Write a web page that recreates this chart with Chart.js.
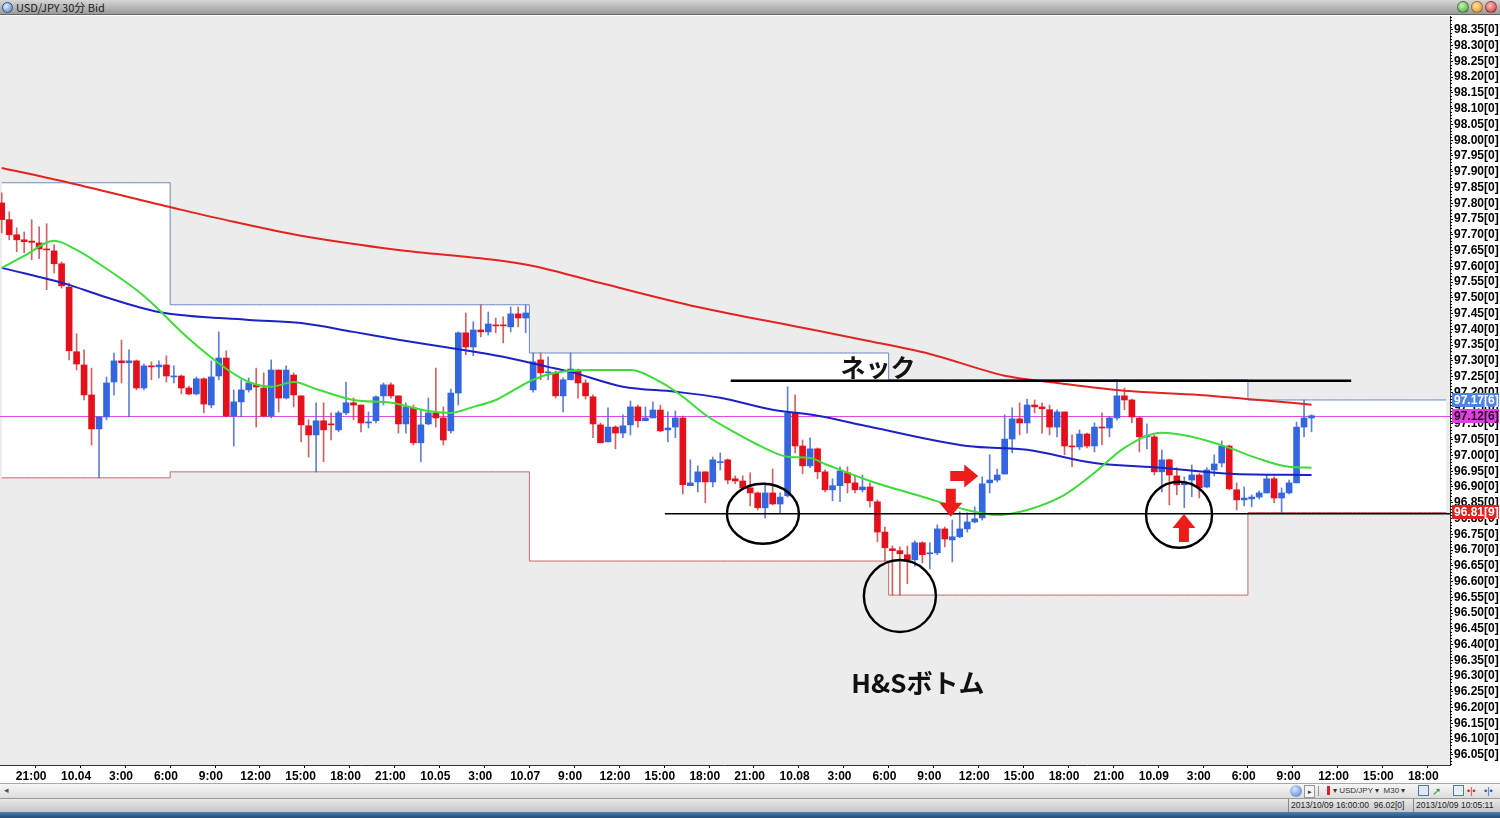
<!DOCTYPE html>
<html lang="ja">
<head>
<meta charset="utf-8">
<title>USD/JPY 30分 Bid</title>
<script src="https://cdn.jsdelivr.net/npm/chart.js@4.4.1/dist/chart.umd.min.js"></script>
<style>
  html,body{margin:0;padding:0;background:#fff;width:1500px;height:818px;overflow:hidden;font-family:"Liberation Sans",Arial,sans-serif;}
  #titlebar{position:absolute;left:0;top:0;width:1500px;height:15px;background:linear-gradient(#d6d6d6,#9a9a9a);border-bottom:1px solid #6a6a6a;box-sizing:border-box;z-index:3;}
  #titlebar .txt{position:absolute;left:16px;top:0;font:11px/14px "Noto Sans CJK JP","Liberation Sans",sans-serif;color:#1c1c1c;}
  #titlebar .icon{position:absolute;left:2px;top:2px;width:11px;height:11px;border-radius:50%;background:radial-gradient(circle at 35% 35%,#e4f0ff,#4a78c0);border:1px solid #35508a;box-sizing:border-box;}
  .wbtn{position:absolute;top:1px;width:12px;height:12px;border-radius:50%;box-sizing:border-box;border:1px solid rgba(0,0,0,.35);}
  #chartWrap{position:absolute;left:-2px;top:15px;width:1502px;height:769px;}
  #scrollrow{position:absolute;left:0;top:783px;width:1500px;height:15px;background:linear-gradient(#f7f7f7,#dcdcdc);border-top:1px solid #a8a8a8;box-sizing:border-box;font-size:8px;color:#333;}
  #statusrow{position:absolute;left:0;top:798px;width:1500px;height:14px;background:linear-gradient(#e9e9e9,#c6c6c6);border-top:1px solid #9a9a9a;box-sizing:border-box;font-size:8.5px;color:#222;}
  #taskbar{position:absolute;left:0;top:812px;width:1500px;height:6px;background:linear-gradient(#4f80b4,#1f4a78);}
  .abs{position:absolute;white-space:nowrap;}
</style>
</head>
<body>
<div id="titlebar">
  <div class="icon"></div>
  <div class="txt">USD/JPY 30分 Bid</div>
  <div class="wbtn" style="left:1457px;background:radial-gradient(circle at 40% 35%,#c8f5b8,#3f9f2c);"></div>
  <div class="wbtn" style="left:1471px;background:radial-gradient(circle at 40% 35%,#ffe2a8,#e08a12);"></div>
  <div class="wbtn" style="left:1485px;background:radial-gradient(circle at 40% 35%,#ffc0c0,#cc2a2a);"></div>
</div>
<div id="chartWrap"><canvas id="c" width="1502" height="769"></canvas></div>
<div id="scrollrow">
  <div class="abs" style="left:4px;top:1px;font-size:9px;color:#555;">&#9666;</div>
  <div class="abs" style="left:1290px;top:1px;width:12px;height:12px;border-radius:50%;background:radial-gradient(circle at 40% 35%,#d8e8ff,#3d72cc);"></div>
  <div class="abs" style="left:1304px;top:1px;width:9px;height:11px;border:1px solid #999;background:#f4f4f4;font-size:7px;line-height:11px;text-align:center;">&#9656;</div>
  <div class="abs" style="left:1318px;top:2px;width:1px;height:10px;background:#999;"></div>
  <div class="abs" style="left:1327px;top:2px;width:3px;height:9px;background:#e02020;"></div>
  <div class="abs" style="left:1333px;top:1px;line-height:12px;">&#9662; USD/JPY &#9662;&nbsp; M30 &#9662;</div>
  <div class="abs" style="left:1418px;top:1px;width:11px;height:11px;border:1px solid #5577aa;background:#dde8f8;box-sizing:border-box;"></div>
  <div class="abs" style="left:1432px;top:1px;color:#2a9a2a;font-size:11px;line-height:12px;">&#10138;</div>
  <div class="abs" style="left:1453px;top:1px;width:11px;height:11px;border:1px solid #5577aa;background:#e8eef8;box-sizing:border-box;"></div>
  <div class="abs" style="left:1467px;top:1px;color:#cc2222;font-size:9px;line-height:12px;">&#8226;|&#8226;</div>
  <div class="abs" style="left:1484px;top:1px;color:#2255cc;font-size:9px;line-height:12px;">&#8226;|&#8226;</div>
</div>
<div id="statusrow">
  <div class="abs" style="left:1288px;top:0;width:1px;height:13px;background:#888;"></div>
  <div class="abs" style="left:1291px;top:0;line-height:13px;">2013/10/09 16:00:00&nbsp; 96.02[0]</div>
  <div class="abs" style="left:1413px;top:0;width:1px;height:13px;background:#888;"></div>
  <div class="abs" style="left:1416px;top:0;line-height:13px;">2013/10/09 10:05:11</div>
</div>
<div id="taskbar"></div>

<script>
// ---------- categories (30-minute bars) ----------
function buildSlots(month, day, startMin, count) {
  const out = []; let d = day, m = startMin;
  for (let k = 0; k < count; k++) {
    const hh = Math.floor(m / 60), mm = m % 60;
    out.push(month + '.' + String(d).padStart(2, '0') + ' ' + String(hh).padStart(2, '0') + ':' + String(mm).padStart(2, '0'));
    m += 30; if (m >= 1440) { m -= 1440; d++; }
  }
  return out;
}
const categories = [...buildSlots('10', 3, 18 * 60 + 30, 71), ...buildSlots('10', 7, 6 * 60, 123)];

// ---------- x tick labels ----------
const tickTimes = ['10.03 21:00','10.04 00:00','10.04 03:00','10.04 06:00','10.04 09:00','10.04 12:00','10.04 15:00','10.04 18:00','10.04 21:00','10.05 00:00','10.05 03:00','10.07 06:00','10.07 09:00','10.07 12:00','10.07 15:00','10.07 18:00','10.07 21:00','10.08 00:00','10.08 03:00','10.08 06:00','10.08 09:00','10.08 12:00','10.08 15:00','10.08 18:00','10.08 21:00','10.09 00:00','10.09 03:00','10.09 06:00','10.09 09:00','10.09 12:00','10.09 15:00','10.09 18:00'];
const tickTexts = ['21:00','10.04','3:00','6:00','9:00','12:00','15:00','18:00','21:00','10.05','3:00','10.07','9:00','12:00','15:00','18:00','21:00','10.08','3:00','6:00','9:00','12:00','15:00','18:00','21:00','10.09','3:00','6:00','9:00','12:00','15:00','18:00'];

// ---------- OHLC ----------
const opens = [97.801,97.748,97.700,97.684,97.680,97.674,97.655,97.649,97.608,97.534,
97.329,97.287,97.192,97.084,97.122,97.233,97.300,97.294,97.300,97.214,
97.284,97.281,97.287,97.249,97.252,97.214,97.195,97.243,97.160,97.252,
97.309,97.125,97.170,97.208,97.224,97.214,97.125,97.271,97.182,97.255,
97.189,97.094,97.065,97.110,97.100,97.081,97.135,97.167,97.160,97.103,
97.110,97.189,97.224,97.189,97.100,97.151,97.040,97.100,97.135,97.119,
97.078,97.198,97.389,97.344,97.398,97.392,97.414,97.414,97.408,97.449,
97.436,97.208,97.303,97.262,97.262,97.189,97.240,97.271,97.230,97.186,
97.097,97.043,97.090,97.071,97.097,97.154,97.110,97.119,97.144,97.081,
97.090,97.119,96.904,96.916,96.948,96.916,96.977,96.986,96.926,96.919,
96.897,96.881,96.834,96.881,96.846,96.872,97.135,97.030,96.967,97.021,
96.948,96.891,96.904,96.945,96.913,96.891,96.900,96.853,96.757,96.704,
96.698,96.685,96.669,96.723,96.688,96.691,96.767,96.732,96.742,96.767,
96.789,96.802,96.913,96.922,96.941,97.052,97.116,97.103,97.160,97.154,
97.145,97.090,97.138,97.030,97.027,97.068,97.030,97.090,97.087,97.119,
97.189,97.176,97.119,97.059,97.059,96.948,96.986,96.935,96.907,96.922,
96.938,96.900,96.954,96.976,97.030,96.891,96.859,96.862,96.868,96.881,
96.926,96.865,96.881,96.913,97.090,97.119];
const highs = [97.833,97.773,97.722,97.709,97.748,97.725,97.735,97.668,97.614,97.547,
97.386,97.335,97.277,97.122,97.249,97.325,97.366,97.335,97.303,97.290,
97.297,97.300,97.316,97.284,97.255,97.220,97.249,97.246,97.300,97.392,
97.332,97.208,97.240,97.246,97.277,97.262,97.303,97.271,97.284,97.262,
97.189,97.113,97.167,97.167,97.135,97.141,97.233,97.182,97.160,97.138,
97.189,97.230,97.230,97.189,97.167,97.160,97.145,97.182,97.277,97.154,
97.211,97.392,97.452,97.424,97.478,97.455,97.436,97.440,97.471,97.471,
97.478,97.325,97.325,97.313,97.268,97.246,97.325,97.274,97.240,97.192,
97.103,97.151,97.094,97.129,97.173,97.160,97.154,97.170,97.160,97.138,
97.141,97.125,96.986,96.967,96.948,96.995,97.008,96.989,96.935,96.935,
96.945,96.884,96.913,96.957,96.881,97.218,97.192,97.049,97.056,97.024,
96.954,96.926,96.964,96.964,96.938,96.938,96.913,96.859,96.773,96.713,
96.710,96.713,96.729,96.726,96.723,96.780,96.773,96.795,96.821,96.818,
96.837,96.932,97.002,96.957,97.129,97.151,97.167,97.179,97.176,97.167,
97.160,97.145,97.138,97.065,97.081,97.071,97.103,97.135,97.122,97.240,
97.214,97.179,97.122,97.100,97.065,97.018,96.989,96.961,96.932,96.970,
96.942,96.961,97.002,97.046,97.033,96.913,96.900,96.875,96.888,96.938,
96.932,96.897,96.922,97.106,97.176,97.129];
const lows = [97.706,97.684,97.646,97.643,97.621,97.624,97.526,97.579,97.531,97.303,
97.271,97.176,97.033,96.929,97.113,97.192,97.230,97.122,97.208,97.208,
97.240,97.246,97.233,97.230,97.195,97.192,97.192,97.135,97.151,97.240,
97.122,97.030,97.122,97.201,97.090,97.122,97.119,97.138,97.179,97.154,
97.043,96.995,96.948,96.980,97.049,97.075,97.129,97.113,97.075,97.087,
97.103,97.160,97.182,97.071,97.071,97.033,96.980,97.097,97.090,97.033,
97.071,97.160,97.319,97.316,97.376,97.382,97.389,97.357,97.392,97.408,
97.389,97.201,97.240,97.240,97.182,97.138,97.240,97.182,97.179,97.056,
97.040,97.043,97.021,97.056,97.065,97.090,97.110,97.119,97.075,97.043,
97.056,96.878,96.904,96.884,96.850,96.900,96.954,96.910,96.910,96.891,
96.840,96.827,96.802,96.843,96.818,96.868,97.008,96.942,96.961,96.926,
96.884,96.856,96.853,96.881,96.881,96.884,96.837,96.726,96.665,96.557,
96.557,96.593,96.649,96.659,96.640,96.685,96.710,96.662,96.739,96.757,
96.786,96.795,96.881,96.916,96.941,97.008,97.065,97.071,97.135,97.071,
97.065,97.059,97.002,96.964,97.018,97.024,97.011,97.033,97.059,97.113,
97.145,97.103,97.011,97.021,96.938,96.884,96.843,96.875,96.834,96.869,
96.865,96.897,96.935,96.964,96.891,96.827,96.840,96.837,96.862,96.881,
96.850,96.819,96.878,96.913,97.059,97.075];
const closes = [97.748,97.700,97.684,97.678,97.676,97.655,97.652,97.608,97.538,97.332,
97.290,97.192,97.084,97.122,97.230,97.300,97.294,97.300,97.214,97.284,
97.281,97.287,97.252,97.252,97.214,97.195,97.243,97.163,97.249,97.309,
97.125,97.170,97.208,97.230,97.217,97.125,97.271,97.182,97.271,97.192,
97.097,97.065,97.110,97.081,97.097,97.135,97.167,97.160,97.103,97.106,
97.186,97.224,97.189,97.100,97.154,97.040,97.097,97.135,97.119,97.049,
97.198,97.389,97.344,97.398,97.392,97.417,97.411,97.411,97.449,97.436,
97.452,97.297,97.262,97.265,97.189,97.240,97.274,97.230,97.189,97.100,
97.040,97.090,97.071,97.094,97.154,97.110,97.119,97.144,97.078,97.087,
97.119,96.907,96.913,96.948,96.916,96.986,96.980,96.922,96.919,96.897,
96.881,96.834,96.881,96.846,96.868,97.135,97.030,96.967,97.021,96.948,
96.891,96.904,96.951,96.913,96.891,96.900,96.856,96.757,96.707,96.698,
96.688,96.669,96.723,96.685,96.691,96.767,96.735,96.742,96.767,96.789,
96.799,96.910,96.922,96.938,97.052,97.116,97.103,97.160,97.154,97.148,
97.090,97.138,97.030,97.027,97.068,97.030,97.090,97.087,97.119,97.189,
97.176,97.122,97.059,97.062,96.948,96.986,96.938,96.907,96.913,96.938,
96.897,96.954,96.973,97.030,96.894,96.859,96.865,96.868,96.881,96.926,
96.865,96.881,96.913,97.090,97.119,97.126];

// ---------- moving averages (read at sample bars) ----------
const maShortIdx = [0,3,7,10,13,19,25,30,33,36,39,42,47,52,57,60,63,66,68,71,74,79,84,88,91,94,98,101,105,108,110,116,123,129,133,137,142,146,150,155,159,164,168,172,175];
const maShortVal = [97.595,97.633,97.681,97.652,97.608,97.506,97.370,97.275,97.233,97.218,97.233,97.211,97.176,97.167,97.141,97.135,97.154,97.176,97.202,97.240,97.262,97.271,97.271,97.233,97.186,97.129,97.072,97.034,96.996,96.992,96.973,96.919,96.869,96.827,96.811,96.827,96.875,96.945,97.024,97.072,97.059,97.024,96.989,96.964,96.961];
const maMidIdx = [0,9,13,21,33,40,47,53,60,67,73,76,83,90,96,103,109,116,129,137,146,155,164,175];
const maMidVal = [97.595,97.541,97.509,97.455,97.430,97.420,97.392,97.367,97.341,97.313,97.281,97.265,97.218,97.202,97.183,97.145,97.126,97.091,97.030,97.018,96.976,96.961,96.942,96.938];
const maLongIdx = [0,9,23,31,40,53,66,71,80,93,107,115,124,134,141,150,160,168,175];
const maLongVal = [97.912,97.865,97.785,97.741,97.697,97.652,97.620,97.601,97.547,97.471,97.405,97.367,97.322,97.253,97.230,97.205,97.192,97.176,97.161];

// ---------- daily high / low boxes ----------
const boxStarts = ['10.03 18:30','10.04 06:00','10.07 06:00','10.08 06:00','10.09 06:00'];
const boxHighs = [97.865,97.478,97.325,97.240,97.176];
const boxLows  = [96.929,96.948,96.665,96.557,96.819];

// ---------- current prices ----------
const bidPrice = 97.126;
const tagPrices = [97.176, 97.126, 96.819];
const tagTexts  = ['97.17[6]', '97.12[6]', '96.81[9]'];

// ---------- build library data ----------
const N = categories.length;
const tickMap = {}; tickTimes.forEach((t, k) => tickMap[t] = tickTexts[k]);
const wickData = [], bodyData = [], wickCol = [], bodyCol = [];
for (let i = 0; i < N; i++) {
  if (i < opens.length) {
    const up = closes[i] >= opens[i];
    wickData.push([lows[i], highs[i]]); bodyData.push([opens[i], closes[i]]);
    wickCol.push(up ? 'rgba(70,105,205,0.85)' : 'rgba(200,70,70,0.85)');
    bodyCol.push(up ? '#3467df' : '#e4101c');
  } else { wickData.push(null); bodyData.push(null); wickCol.push('#000'); bodyCol.push('#000'); }
}
function sparse(idx, vals) { const a = new Array(N).fill(null); idx.forEach((k, j) => a[k] = vals[j]); return a; }
const startIdx = boxStarts.map(t => categories.indexOf(t));
const boxHighData = [], boxLowData = [];
for (let i = 0; i < N; i++) {
  let d = 0; for (let k = 0; k < startIdx.length; k++) if (i >= startIdx[k]) d = k;
  boxHighData.push(boxHighs[d]); boxLowData.push(boxLows[d]);
}

// ---------- annotation layout ----------
const marks = {
  neck: { from: 97.4, to: 180.3, price: 97.237 },
  support: { from: 88.6, price: 96.815 },
  circles: [ { i: 101.7, p: 96.815, rx: 36, ry: 30 }, { i: 120.0, p: 96.554, rx: 36, ry: 36 }, { i: 157.3, p: 96.812, rx: 33, ry: 33 } ],
  arrows: [ { i: 128.6, p: 96.935, a: Math.PI / 2 }, { i: 126.8, p: 96.850, a: Math.PI }, { i: 157.95, p: 96.770, a: 0 } ],
  texts: [ { i: 117.07, p: 97.278, t: 'ネック', size: 25 }, { i: 122.4, p: 96.278, t: 'H&Sボトム', size: 26 } ]
};
const tagStyles = [ { bg: '#4f82e8', fg: '#ffffff' }, { bg: '#e13fe1', fg: '#2a002a' }, { bg: '#e3201c', fg: '#ffffff' } ];

function drawArrow(ctx, cx, cy, ang) {
  ctx.save(); ctx.translate(cx, cy); ctx.rotate(ang);
  ctx.beginPath();
  ctx.moveTo(0, -14); ctx.lineTo(11.5, 0); ctx.lineTo(5, 0); ctx.lineTo(5, 14);
  ctx.lineTo(-5, 14); ctx.lineTo(-5, 0); ctx.lineTo(-11.5, 0); ctx.closePath();
  ctx.fillStyle = '#ee1b1b'; ctx.fill(); ctx.restore();
}

const overlay = {
  id: 'overlay',
  beforeDraw(chart) {
    const { ctx, chartArea: a } = chart;
    ctx.save();
    ctx.fillStyle = '#ffffff'; ctx.fillRect(0, 0, chart.width, chart.height);
    ctx.fillStyle = '#ececec'; ctx.fillRect(a.left, a.top, a.right - a.left, a.bottom - a.top);
    ctx.restore();
  },
  beforeDatasetsDraw(chart) {
    const { ctx, chartArea: a, scales: { y } } = chart;
    const py = Math.round(y.getPixelForValue(bidPrice)) + 0.5;
    ctx.save(); ctx.strokeStyle = '#e04be0'; ctx.lineWidth = 1;
    ctx.beginPath(); ctx.moveTo(a.left, py); ctx.lineTo(a.right, py); ctx.stroke(); ctx.restore();
  },
  afterDatasetsDraw(chart) {
    const { ctx, chartArea: a, scales: { x, y } } = chart;
    ctx.save();
    ctx.beginPath(); ctx.rect(a.left, a.top, a.right - a.left, a.bottom - a.top); ctx.clip();
    ctx.strokeStyle = '#000';
    ctx.lineWidth = 1.6;
    let py = y.getPixelForValue(marks.support.price);
    ctx.beginPath(); ctx.moveTo(x.getPixelForValue(marks.support.from), py); ctx.lineTo(a.right, py); ctx.stroke();
    ctx.lineWidth = 2.6;
    py = y.getPixelForValue(marks.neck.price);
    ctx.beginPath(); ctx.moveTo(x.getPixelForValue(marks.neck.from), py); ctx.lineTo(x.getPixelForValue(marks.neck.to), py); ctx.stroke();
    ctx.lineWidth = 2.4;
    marks.circles.forEach(c => {
      ctx.beginPath(); ctx.ellipse(x.getPixelForValue(c.i), y.getPixelForValue(c.p), c.rx, c.ry, 0, 0, Math.PI * 2); ctx.stroke();
    });
    marks.arrows.forEach(r => drawArrow(ctx, x.getPixelForValue(r.i), y.getPixelForValue(r.p), r.a));
    ctx.fillStyle = '#111'; ctx.textAlign = 'center'; ctx.textBaseline = 'middle';
    marks.texts.forEach(t => {
      ctx.font = 'bold ' + t.size + 'px "Noto Sans CJK JP", "Liberation Sans", sans-serif';
      ctx.fillText(t.t, x.getPixelForValue(t.i), y.getPixelForValue(t.p));
    });
    ctx.restore();
  },
  afterDraw(chart) {
    const { ctx, scales: { y } } = chart;
    ctx.save();
    ctx.strokeStyle = '#000'; ctx.lineWidth = 1;
    for (let k = 9602; k <= 9839; k++) {
      if (k % 5 === 0) continue;
      const py = Math.round(y.getPixelForValue(k / 100)) + 0.5;
      ctx.beginPath(); ctx.moveTo(y.left, py); ctx.lineTo(y.left + 2, py); ctx.stroke();
    }
    ctx.font = 'bold 12px "Liberation Sans", Arial, sans-serif';
    ctx.textBaseline = 'middle'; ctx.textAlign = 'left';
    tagPrices.forEach((p, k) => {
      const py = Math.round(y.getPixelForValue(p));
      ctx.fillStyle = tagStyles[k].bg; ctx.fillRect(y.left + 2, py - 7, 47, 14);
      ctx.fillStyle = tagStyles[k].fg; ctx.fillText(tagTexts[k], y.left + 4, py + 0.5);
    });
    ctx.restore();
  }
};

const tickFont = { family: '"Liberation Sans", Arial, sans-serif', size: 12, weight: 'bold' };
new Chart(document.getElementById('c'), {
  type: 'bar',
  data: {
    labels: categories,
    datasets: [
      { type: 'line', data: boxHighData, borderColor: '#6c86c4', borderWidth: 1, stepped: 'middle', pointRadius: 0, fill: '+1', backgroundColor: '#ffffff', order: 20 },
      { type: 'line', data: boxLowData, borderColor: '#c26a6a', borderWidth: 1, stepped: 'middle', pointRadius: 0, fill: false, order: 19 },
      { type: 'bar', data: wickData, backgroundColor: wickCol, barThickness: 1, grouped: false, borderWidth: 0, order: 10 },
      { type: 'bar', data: bodyData, backgroundColor: bodyCol, barThickness: 6, grouped: false, borderWidth: 0, minBarLength: 1, order: 9 },
      { type: 'line', data: sparse(maLongIdx, maLongVal), borderColor: '#e3231f', borderWidth: 2, pointRadius: 0, spanGaps: true, cubicInterpolationMode: 'monotone', fill: false, order: 3 },
      { type: 'line', data: sparse(maMidIdx, maMidVal), borderColor: '#1c22c4', borderWidth: 2, pointRadius: 0, spanGaps: true, cubicInterpolationMode: 'monotone', fill: false, order: 2 },
      { type: 'line', data: sparse(maShortIdx, maShortVal), borderColor: '#3ddc3a', borderWidth: 2, pointRadius: 0, spanGaps: true, cubicInterpolationMode: 'monotone', fill: false, order: 1 }
    ]
  },
  options: {
    responsive: false, animation: false, devicePixelRatio: 1,
    layout: { padding: { top: 1, left: 0, right: 0, bottom: 0 } },
    plugins: { legend: { display: false }, tooltip: { enabled: false }, filler: { drawTime: 'beforeDatasetsDraw' } },
    scales: {
      x: {
        type: 'category', offset: true,
        grid: { display: true, drawOnChartArea: false, tickLength: 3,
                tickColor: c => (c.tick && c.tick.label) ? '#000' : 'rgba(0,0,0,0)' },
        border: { display: true, color: '#333' },
        ticks: { autoSkip: false, maxRotation: 0, minRotation: 0, labelOffset: -8, padding: 1, color: '#000', font: tickFont,
                 callback: (v, i) => tickMap[categories[i]] || '' },
        afterFit: s => { s.height = 19; s.paddingLeft = 0; s.paddingRight = 0; }
      },
      y: {
        position: 'right', min: 96.018, max: 98.394,
        ticks: { stepSize: 0.05, includeBounds: false, autoSkip: false, padding: 1, color: '#000', font: tickFont,
                 callback: v => v.toFixed(2) + '[0]' },
        grid: { drawOnChartArea: false, tickLength: 3, color: '#000' },
        border: { display: true, color: '#333' },
        afterFit: s => { s.width = 50; s.paddingTop = 0; s.paddingBottom = 0; }
      }
    }
  },
  plugins: [overlay]
});
</script>
</body>
</html>
